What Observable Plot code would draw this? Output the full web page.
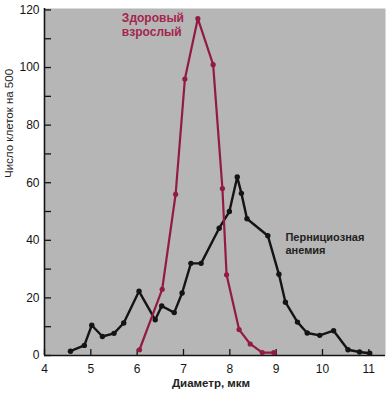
<!DOCTYPE html>
<html><head><meta charset="utf-8">
<script src="https://cdn.jsdelivr.net/npm/d3@7"></script>
<script src="https://cdn.jsdelivr.net/npm/@observablehq/plot@0.6"></script>
<style>body{margin:0;background:#fff;}</style>
</head><body><div id="chart"></div>
<script>
const healthyX = [6.05, 6.54, 6.83, 7.03, 7.31, 7.64, 7.84, 7.93, 8.20, 8.44, 8.70, 8.95];
const healthyY = [2, 23, 56, 96, 117, 101, 58, 28, 9, 4, 1, 1];
const anemiaX = [4.56, 4.86, 5.02, 5.25, 5.50, 5.71, 6.04, 6.39, 6.53, 6.80, 6.97, 7.16, 7.38, 7.77, 7.99, 8.16, 8.25, 8.37, 8.82, 9.06, 9.20, 9.46, 9.67, 9.94, 10.24, 10.55, 10.80, 11.02];
const anemiaY = [1.5, 3.5, 10.5, 6.6, 7.7, 11.3, 22.3, 12.4, 17.2, 14.9, 21.7, 32, 32, 44.2, 50, 62, 56.3, 47.5, 41.6, 28.2, 18.5, 11.6, 7.8, 7, 8.6, 2, 1.2, 0.8];
const xTicks = [4, 5, 6, 7, 8, 9, 10, 11];
const yTicksMajor = [0, 20, 40, 60, 80, 100, 120];
const yTicksMinor = [0, 10, 20, 30, 40, 50, 60, 70, 80, 90, 100, 110, 120];
const xLabel = "Диаметр, мкм";
const yLabel = "Число клеток на 500";
const healthyLabel = "Здоровый\nвзрослый";
const anemiaLabel = "Пернициозная\nанемия";

const healthy = healthyX.map((x, i) => ({x, y: healthyY[i]}));
const anemia = anemiaX.map((x, i) => ({x, y: anemiaY[i]}));

const redLine = "#931a42";
const redText = "#a3264f";
const ink = "#141414";

const plot = Plot.plot({
  width: 392, height: 395,
  marginLeft: 44, marginRight: 7, marginTop: 8, marginBottom: 40,
  style: {fontFamily: "'Liberation Sans', Arial, sans-serif", fontSize: "12px", background: "#fff", color: ink},
  x: {domain: [4, 11.36]},
  y: {domain: [0, 120.5]},
  marks: [
    Plot.frame({fill: "#b6b6b6", stroke: null}),
    Plot.axisY({ticks: yTicksMinor, tickSize: 7, dx: 7, text: null, label: null, strokeWidth: 1.3}),
    Plot.axisY({ticks: yTicksMajor, tickSize: 0, tickPadding: 5, label: null, fontSize: 12}),
    Plot.axisX({ticks: xTicks, tickSize: 6, dy: -6, text: null, label: null, strokeWidth: 1.3}),
    Plot.axisX({ticks: xTicks, tickSize: 0, tickPadding: 9, label: null, fontSize: 12}),
    Plot.ruleX([4], {stroke: ink, strokeWidth: 1.6}),
    Plot.ruleY([0], {stroke: ink, strokeWidth: 1.6}),
    Plot.line(anemia, {x: "x", y: "y", stroke: ink, strokeWidth: 2.4}),
    Plot.dot(anemia, {x: "x", y: "y", r: 2.7, fill: ink}),
    Plot.line(healthy, {x: "x", y: "y", stroke: redLine, strokeWidth: 2.2}),
    Plot.dot(healthy, {x: "x", y: "y", r: 2.6, fill: redLine}),
    Plot.text([healthyLabel], {x: 5.67, y: 119.3, text: d => d, textAnchor: "start", lineAnchor: "top", fill: redText, fontSize: 12, fontWeight: "bold", lineHeight: 1.15}),
    Plot.text([anemiaLabel], {x: 9.2, y: 42.9, text: d => d, textAnchor: "start", lineAnchor: "top", fill: "#222", fontSize: 11, fontWeight: "bold", lineHeight: 1.15}),
    Plot.text([xLabel], {frameAnchor: "bottom", dx: -4, dy: 31, text: d => d, fontSize: 11.5, fontWeight: "bold", fill: "#222"}),
    Plot.text([yLabel], {frameAnchor: "left", dx: -35, dy: -4, rotate: -90, text: d => d, fontSize: 11.5, fill: "#222"})
  ]
});
document.getElementById("chart").appendChild(plot);
</script>
</body></html>
